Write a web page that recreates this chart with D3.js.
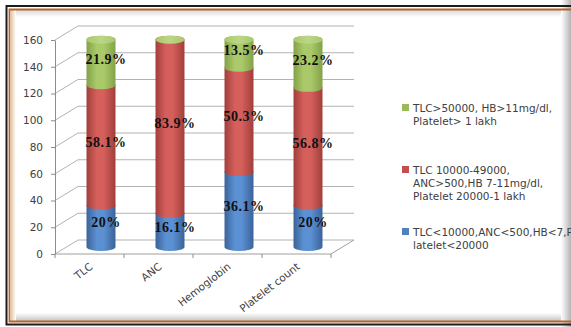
<!DOCTYPE html>
<html>
<head>
<meta charset="utf-8">
<script src="https://cdn.jsdelivr.net/npm/d3@7/dist/d3.min.js"></script>
<style>
  html, body { margin: 0; padding: 0; background: #fff; }
  svg { display: block; }
</style>
</head>
<body>
<svg id="chart" width="571" height="327"></svg>
<script>
// Patient counts per parameter, split into three severity bands
const categories = ["TLC", "ANC", "Hemoglobin", "Platelet count"];
const lowCounts  = [31, 25, 56, 31];   // severe band
const midCounts  = [90, 130, 78, 88];  // moderate band
const highCounts = [34, 0, 21, 36];    // mild band
const yTicks = [0, 20, 40, 60, 80, 100, 120, 140, 160];
const seriesNames = [
  ["TLC<10000,ANC<500,HB<7,P", "latelet<20000"],
  ["TLC 10000-49000,", "ANC>500,HB 7-11mg/dl,", "Platelet 20000-1 lakh"],
  ["TLC>50000, HB>11mg/dl,", "Platelet> 1 lakh"]
];

const svg = d3.select("#chart");
const W = 571, H = 327;

// ---------- frame ----------
const defs = svg.append("defs");
function lin(id, x1, y1, x2, y2, stops) {
  const g = defs.append("linearGradient").attr("id", id)
    .attr("x1", x1).attr("y1", y1).attr("x2", x2).attr("y2", y2);
  stops.forEach(s => g.append("stop").attr("offset", s[0]).attr("stop-color", s[1]));
  return g;
}
lin("shTop", 0, 0, 0, 1, [["0%", "#d8d8d8"], ["100%", "#ffffff"]]);
lin("shBot", 0, 0, 0, 1, [["0%", "#ffffff"], ["100%", "#c4c4c4"]]);
lin("shLeft", 0, 0, 1, 0, [["0%", "#e6c6a6"], ["100%", "#ffffff"]]);
lin("shRight", 0, 0, 1, 0, [["0%", "#ffffff"], ["100%", "#b4b4b4"]]);

svg.append("rect").attr("width", W).attr("height", H).attr("fill", "#fff");
svg.append("rect").attr("x", 11).attr("y", 10).attr("width", W).attr("height", 7).attr("fill", "url(#shTop)");
svg.append("rect").attr("x", 11).attr("y", 313).attr("width", W).attr("height", 8).attr("fill", "url(#shBot)");
svg.append("rect").attr("x", 11).attr("y", 10).attr("width", 5).attr("height", 311).attr("fill", "url(#shLeft)");
svg.append("rect").attr("x", 561).attr("y", 0).attr("width", 10).attr("height", H).attr("fill", "url(#shRight)");
// brown inner border
svg.append("path").attr("d", `M${W},9.5 H9.5 V321.5 H${W}`)
  .attr("fill", "none").attr("stroke", "#b4652c").attr("stroke-width", 1.8);
// black outer border
svg.append("path").attr("d", `M${W},6 H6.5 V324.5 H${W}`)
  .attr("fill", "none").attr("stroke", "#1c1c1c").attr("stroke-width", 2);

// ---------- scales ----------
const x0 = 55, x1 = 331;
const depthX = 23, depthY = -14;
const x = d3.scaleBand().domain(categories).range([x0, x1]).paddingInner(0).paddingOuter(0);
const y = d3.scaleLinear().domain([0, 160]).range([254, 40]);
const bw = x.bandwidth();
const barW = bw * 0.42;

// ---------- walls and floor ----------
const grid = svg.append("g").attr("stroke", "#b3b3b3").attr("stroke-width", 1).attr("fill", "none");
yTicks.forEach(t => {
  const yy = y(t);
  grid.append("path").attr("d",
    `M${x0},${yy} L${x0 + depthX},${yy + depthY} L${x1 + depthX},${yy + depthY}`);
});
// floor right edge and front edge
grid.append("path").attr("d",
  `M${x0},${y(0)} L${x1},${y(0)} L${x1 + depthX},${y(0) + depthY}`).attr("stroke", "#a0a0a0");

// y axis
const yAxis = d3.axisLeft(y).tickValues(yTicks).tickSize(4).tickSizeOuter(0).tickPadding(8);
const gy = svg.append("g").attr("transform", `translate(${x0},0)`).call(yAxis);
gy.select(".domain").attr("stroke", "#8c8c8c");
gy.selectAll(".tick line").attr("stroke", "#8c8c8c");
gy.selectAll(".tick text").attr("fill", "#404040")
  .style("font-family", "'DejaVu Sans', sans-serif").style("font-size", "10.5px");

// category boundary ticks on the floor front edge
const bounds = categories.map(c => x(c) + bw).concat([x0]);
svg.append("g").selectAll("line").data(bounds).join("line")
  .attr("x1", d => d).attr("x2", d => d)
  .attr("y1", y(0)).attr("y2", y(0) + 4)
  .attr("stroke", "#8c8c8c");

// category labels
svg.append("g").selectAll("text").data(categories).join("text")
  .attr("transform", d => `translate(${x(d) + bw / 2 + 4},${y(0) + 14}) rotate(-38)`)
  .attr("text-anchor", "end")
  .attr("fill", "#404040")
  .style("font-family", "'DejaVu Sans', sans-serif").style("font-size", "10.5px")
  .text(d => d);

// ---------- cylinders ----------
const palettes = [
  { edge: "#3a6399", mid: "#5b90d2", cap: "#7ea7dc" },
  { edge: "#a13e3b", mid: "#d45f5b", cap: "#e08a86" },
  { edge: "#83a247", mid: "#a9c96a", cap: "#bcd688" }
];
palettes.forEach((p, i) => {
  lin("body" + i, 0, 0, 1, 0, [["0%", p.edge], ["35%", p.mid], ["60%", p.mid], ["100%", p.edge]]);
  lin("cap" + i, 0, 0, 1, 0, [["0%", p.mid], ["50%", p.cap], ["100%", p.mid]]);
});

const series = [lowCounts, midCounts, highCounts];
const stacked = categories.map((c, i) => {
  let acc = 0;
  return series.map((s, k) => {
    const seg = { cat: c, k, v: s[i], v0: acc, v1: acc + s[i] };
    acc += s[i];
    return seg;
  });
});
const totals = categories.map((c, i) => d3.sum(series, s => s[i]));

const rx = barW / 2, ry = 4;
const midShift = depthY / 2;
const by = v => y(v) + midShift;
const cx = c => x(c) + bw / 2 + depthX / 2;

const bars = svg.append("g");
stacked.forEach((segs, i) => {
  const c = categories[i];
  const l = cx(c) - rx, r = cx(c) + rx;
  segs.filter(s => s.v > 0).forEach(s => {
    const yt = by(s.v1), yb = by(s.v0);
    bars.append("path")
      .attr("d", `M${l},${yt} L${l},${yb} A${rx},${ry} 0 0 0 ${r},${yb} L${r},${yt} A${rx},${ry} 0 0 0 ${l},${yt} Z`)
      .attr("fill", `url(#body${s.k})`);
  });
  // the top series closes the stack, even when its own segment is empty
  const top = segs[segs.length - 1];
  bars.append("ellipse").attr("cx", cx(c)).attr("cy", by(top.v1)).attr("rx", rx).attr("ry", ry)
    .attr("fill", `url(#cap${top.k})`);
});

// percentage labels
const fmt = d3.format(".1~f");
const labels = stacked.flatMap((segs, i) => segs.filter(s => s.v > 0).map(s => ({ ...s, total: totals[i] })));
svg.append("g").selectAll("text").data(labels).join("text")
  .attr("x", d => cx(d.cat) + 5)
  .attr("y", d => by((d.v0 + d.v1) / 2) - 2)
  .attr("text-anchor", "middle")
  .attr("dominant-baseline", "middle")
  .attr("fill", "#111")
  .style("font-family", "'Liberation Serif', 'Times New Roman', serif")
  .style("font-weight", "bold").style("font-size", "14px").style("letter-spacing", "0.5px")
  .text(d => fmt(d.v / d.total * 100) + "%");

// ---------- legend ----------
const legendColors = ["#4f81bd", "#c0504d", "#9bbb59"];
const legendTop = [232, 170, 108];
const lg = svg.append("g").style("font-family", "'DejaVu Sans', sans-serif").style("font-size", "10.5px");
seriesNames.forEach((lines, k) => {
  const g = lg.append("g").attr("transform", `translate(402,${legendTop[k]})`);
  g.append("rect").attr("x", 0).attr("y", -4).attr("width", 7).attr("height", 7).attr("fill", legendColors[k]);
  g.selectAll("text").data(lines).join("text")
    .attr("x", 11).attr("y", (d, j) => j * 12.8 + 4)
    .attr("fill", "#404040")
    .text(d => d);
});
</script>
</body>
</html>
